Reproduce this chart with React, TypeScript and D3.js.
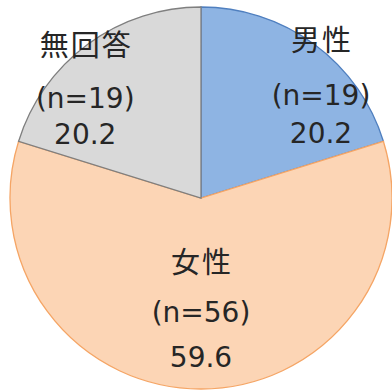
import React from "react";
import * as d3 from "d3";

const categories = ["男性", "女性", "無回答"];
const counts = [19, 56, 19];
const percents = [20.2, 59.6, 20.2];

const fills = ["#8EB4E3", "#FCD5B5", "#D9D9D9"];
const strokes = ["#4F7FBF", "#F5A565", "#7F7F7F"];
// label placement: angle offset (radians) from slice mid-angle, and radius factor
const labelAngleOffset = [0.231, 0, -0.225];
const labelRadiusFactor = [0.825, 0.597, 0.8];
const lineOffsets = [
  [-57.5, 0, 38],
  [-52.5, 0, 45],
  [-55.5, 0, 36],
];

const W = 392;
const H = 392;

export default function App() {
  const cx = 201;
  const cy = 198;
  const r = 191;
  const pie = d3.pie<number>().sort(null).value((d) => d)(percents);
  const arc = d3.arc<d3.PieArcDatum<number>>().innerRadius(0).outerRadius(r);
  const cjkFont = "'Noto Sans CJK JP', sans-serif";
  const latinFont = "'DejaVu Sans', sans-serif";
  return (
    <svg
      width={W}
      height={H}
      style={{ position: "fixed", left: 0, top: 0, background: "#fff" }}
    >
      <g transform={`translate(${cx},${cy})`}>
        {pie.map((p, i) => (
          <path
            key={i}
            d={arc(p) || ""}
            fill={fills[i]}
            stroke={strokes[i]}
            strokeWidth={1.3}
          />
        ))}
        {pie.map((p, i) => {
          const a = (p.startAngle + p.endAngle) / 2 + labelAngleOffset[i];
          const rr = r * labelRadiusFactor[i];
          const x = Math.sin(a) * rr;
          const y = -Math.cos(a) * rr;
          const lines = [categories[i], `(n=${counts[i]})`, percents[i].toFixed(1)];
          const spacing = [2, 0, 0];
          const fonts = [cjkFont, latinFont, latinFont];
          const sizes = [29, 28, 28];
          return (
            <g key={"l" + i} transform={`translate(${x},${y})`}>
              {lines.map((t, j) => (
                <text
                  key={j}
                  x={spacing[j] / 2}
                  y={lineOffsets[i][j]}
                  textAnchor="middle"
                  dominantBaseline="central"
                  fontFamily={fonts[j]}
                  fontSize={sizes[j]}
                  letterSpacing={spacing[j]}
                  fill="#262626"
                >
                  {t}
                </text>
              ))}
            </g>
          );
        })}
      </g>
    </svg>
  );
}
